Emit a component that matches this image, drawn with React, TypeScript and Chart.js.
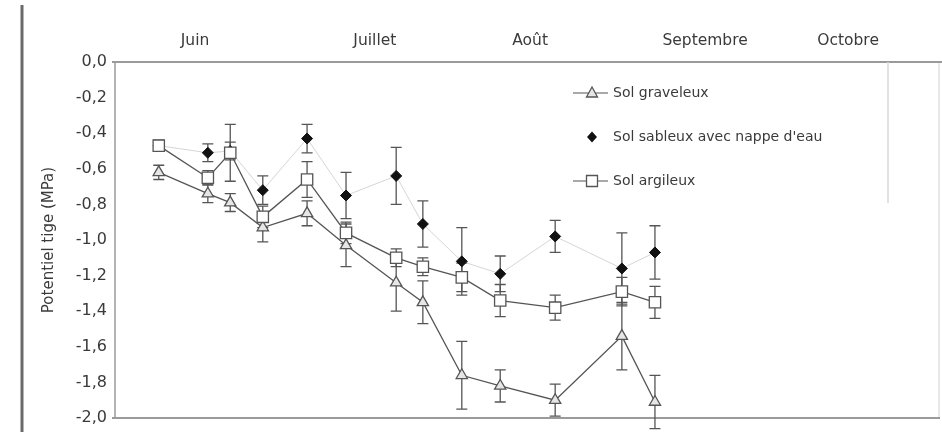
import React, { useEffect, useRef } from "react";
import { Chart, registerables } from "chart.js";
Chart.register(...registerables);

// ---- data ----
const seriesLabels = ["Sol graveleux", "Sol sableux avec nappe d'eau", "Sol argileux"];
// sampling dates, in days after 1 June
const sampleDays = [8.2, 17.4, 21.6, 27.7, 36.0, 43.3, 52.7, 57.7, 65.0, 72.2, 82.5, 95.0, 101.2];
const graveleux = [-0.62, -0.74, -0.79, -0.93, -0.85, -1.03, -1.24, -1.35, -1.76, -1.82, -1.9, -1.54, -1.91];
const graveleuxErr = [0.04, 0.05, 0.05, 0.08, 0.07, 0.12, 0.16, 0.12, 0.19, 0.09, 0.09, 0.19, 0.15];
const sableux = [-0.47, -0.51, -0.5, -0.72, -0.43, -0.75, -0.64, -0.91, -1.12, -1.19, -0.98, -1.16, -1.07];
const sableuxErr = [0.03, 0.05, 0.05, 0.08, 0.08, 0.13, 0.16, 0.13, 0.19, 0.1, 0.09, 0.2, 0.15];
const argileux = [-0.47, -0.65, -0.51, -0.87, -0.66, -0.96, -1.1, -1.15, -1.21, -1.34, -1.38, -1.29, -1.35];
const argileuxErr = [0.03, 0.04, 0.16, 0.06, 0.1, 0.06, 0.05, 0.05, 0.08, 0.09, 0.07, 0.08, 0.09];
const monthLabels = ["Juin", "Juillet", "Août", "Septembre", "Octobre"];
const monthPositions = [15, 48.7, 77.8, 110.6, 137.4];
const yAxisTitle = "Potentiel tige (MPa)";
const yMin = -2.0;
const yMax = 0.0;
const yStep = 0.2;
const xMin = 0;
const xMax = 155;

const errors = [graveleuxErr, sableuxErr, argileuxErr];
const FONT = "'DejaVu Sans', sans-serif";
const TEXT = "#3a3a3a";
const LINE = "#555";

const framePlugin = {
  id: "frame",
  beforeDraw(chart: any) {
    const { ctx, chartArea: a } = chart;
    ctx.save();
    ctx.fillStyle = "#fff";
    ctx.fillRect(0, 0, chart.width, chart.height);
    // page border at left
    ctx.strokeStyle = "#6a6a6a";
    ctx.lineWidth = 3;
    ctx.beginPath();
    ctx.moveTo(22, 5);
    ctx.lineTo(22, chart.height);
    ctx.stroke();
    // faint right border
    ctx.strokeStyle = "#e2e2e2";
    ctx.lineWidth = 1.5;
    ctx.beginPath();
    ctx.moveTo(a.right - 3, a.top);
    ctx.lineTo(a.right - 3, a.bottom);
    ctx.stroke();
    // plot frame
    ctx.strokeStyle = "#9a9a9a";
    ctx.lineWidth = 2;
    ctx.beginPath();
    ctx.moveTo(a.left - 3, a.top);
    ctx.lineTo(a.right, a.top);
    ctx.moveTo(a.left - 3, a.bottom);
    ctx.lineTo(a.right - 2, a.bottom);
    ctx.stroke();
    ctx.lineWidth = 1.5;
    ctx.beginPath();
    ctx.moveTo(a.left, a.top);
    ctx.lineTo(a.left, a.bottom);
    ctx.stroke();
    // legend box edge
    ctx.strokeStyle = "#d8d8d8";
    ctx.lineWidth = 1.5;
    ctx.beginPath();
    ctx.moveTo(a.left + 773, a.top);
    ctx.lineTo(a.left + 773, a.top + 141);
    ctx.stroke();
    ctx.restore();
  },
};

const errorBarPlugin = {
  id: "errorBars",
  beforeDatasetsDraw(chart: any) {
    const { ctx } = chart;
    const yScale = chart.scales.y;
    ctx.save();
    ctx.strokeStyle = LINE;
    ctx.lineWidth = 1.3;
    chart.data.datasets.forEach((ds: any, i: number) => {
      const meta = chart.getDatasetMeta(i);
      const errs = errors[i];
      meta.data.forEach((pt: any, j: number) => {
        const v = ds.data[j].y;
        const e = errs[j];
        const yt = yScale.getPixelForValue(v + e);
        const yb = yScale.getPixelForValue(v - e);
        const x = pt.x;
        ctx.beginPath();
        ctx.moveTo(x, yt);
        ctx.lineTo(x, yb);
        ctx.moveTo(x - 5.5, yt);
        ctx.lineTo(x + 5.5, yt);
        ctx.moveTo(x - 5.5, yb);
        ctx.lineTo(x + 5.5, yb);
        ctx.stroke();
      });
    });
    ctx.restore();
  },
};

function drawMarker(ctx: CanvasRenderingContext2D, style: string, x: number, y: number) {
  ctx.lineWidth = 1.3;
  ctx.strokeStyle = LINE;
  ctx.beginPath();
  if (style === "triangle") {
    ctx.fillStyle = "#e6e6e6";
    ctx.moveTo(x, y - 6);
    ctx.lineTo(x + 5.5, y + 4);
    ctx.lineTo(x - 5.5, y + 4);
    ctx.closePath();
    ctx.fill();
    ctx.stroke();
  } else if (style === "rect") {
    ctx.fillStyle = "#fff";
    ctx.rect(x - 5.5, y - 5.5, 11, 11);
    ctx.fill();
    ctx.stroke();
  } else {
    ctx.fillStyle = "#111";
    ctx.moveTo(x, y - 5.5);
    ctx.lineTo(x + 5, y);
    ctx.lineTo(x, y + 5.5);
    ctx.lineTo(x - 5, y);
    ctx.closePath();
    ctx.fill();
  }
}

const legendPlugin = {
  id: "customLegend",
  afterDraw(chart: any) {
    const { ctx, chartArea: a } = chart;
    ctx.save();
    const x0 = a.left + 458;
    chart.data.datasets.forEach((ds: any, i: number) => {
      const y = a.top + 31 + i * 44;
      if (ds.legendLine) {
        ctx.strokeStyle = LINE;
        ctx.lineWidth = 1.2;
        ctx.beginPath();
        ctx.moveTo(x0, y);
        ctx.lineTo(x0 + 35, y);
        ctx.stroke();
      }
      drawMarker(ctx, ds.pointStyle, x0 + 19, y);
      ctx.fillStyle = TEXT;
      ctx.font = `14px ${FONT}`;
      ctx.textBaseline = "middle";
      ctx.textAlign = "left";
      ctx.fillText(ds.label, x0 + 40, y);
    });
    ctx.restore();
  },
};

export default function App() {
  const ref = useRef<HTMLCanvasElement | null>(null);
  useEffect(() => {
    document.body.style.margin = "0";
    if (!ref.current) return;
    const mk = (vals: number[]) => vals.map((v, i) => ({ x: sampleDays[i], y: v }));
    const chart = new Chart(ref.current, {
      type: "line",
      data: {
        datasets: [
          {
            label: seriesLabels[0],
            data: mk(graveleux),
            borderColor: LINE,
            borderWidth: 1.3,
            pointStyle: "triangle",
            pointRadius: 6.5,
            pointBackgroundColor: "#e6e6e6",
            pointBorderColor: LINE,
            pointBorderWidth: 1.3,
            order: 1,
            legendLine: true,
          } as any,
          {
            label: seriesLabels[1],
            data: mk(sableux),
            borderColor: "#d6d6d6",
            borderWidth: 1,
            pointStyle: "rectRot",
            pointRadius: 5.5,
            pointBackgroundColor: "#111",
            pointBorderColor: "#111",
            pointBorderWidth: 1,
            order: 2,
            legendLine: false,
          } as any,
          {
            label: seriesLabels[2],
            data: mk(argileux),
            borderColor: LINE,
            borderWidth: 1.3,
            pointStyle: "rect",
            pointRadius: 8,
            pointBackgroundColor: "#fff",
            pointBorderColor: LINE,
            pointBorderWidth: 1.3,
            order: 0,
            legendLine: true,
          } as any,
        ],
      },
      options: {
        responsive: false,
        animation: false,
        devicePixelRatio: 1,
        layout: { autoPadding: false, padding: { left: 40, top: 0, right: 0, bottom: 14 } },
        plugins: { legend: { display: false }, tooltip: { enabled: false } },
        scales: {
          x: {
            type: "linear",
            position: "top",
            min: xMin,
            max: xMax,
            grid: { display: false, drawTicks: false },
            border: { display: false },
            afterBuildTicks: (s: any) => {
              s.ticks = monthPositions.map((v) => ({ value: v }));
            },
            afterFit: (s: any) => {
              s.height = 62;
              s.paddingLeft = 0;
              s.paddingRight = 0;
            },
            ticks: {
              autoSkip: false,
              maxRotation: 0,
              padding: 12,
              color: TEXT,
              font: { family: FONT, size: 15.5 },
              callback: (_v: any, i: number) => monthLabels[i],
            },
          },
          y: {
            type: "linear",
            min: yMin,
            max: yMax,
            grid: { display: false, drawTicks: false },
            border: { display: false },
            afterFit: (s: any) => {
              s.width = 75;
              s.paddingTop = 0;
              s.paddingBottom = 0;
            },
            ticks: {
              stepSize: yStep,
              padding: 8,
              color: TEXT,
              font: { family: FONT, size: 16 },
              callback: (v: any) => {
                const n = Math.abs(v) < 1e-9 ? 0 : v;
                return n.toFixed(1).replace(".", ",");
              },
            },
            title: {
              display: true,
              text: yAxisTitle,
              color: TEXT,
              padding: 0,
              font: { family: FONT, size: 15 },
            },
          },
        },
      },
      plugins: [framePlugin, errorBarPlugin, legendPlugin],
    });
    return () => chart.destroy();
  }, []);
  return (
    <div style={{ width: 942, height: 432, background: "#fff" }}>
      <canvas ref={ref} width={942} height={432} style={{ display: "block" }} />
    </div>
  );
}
